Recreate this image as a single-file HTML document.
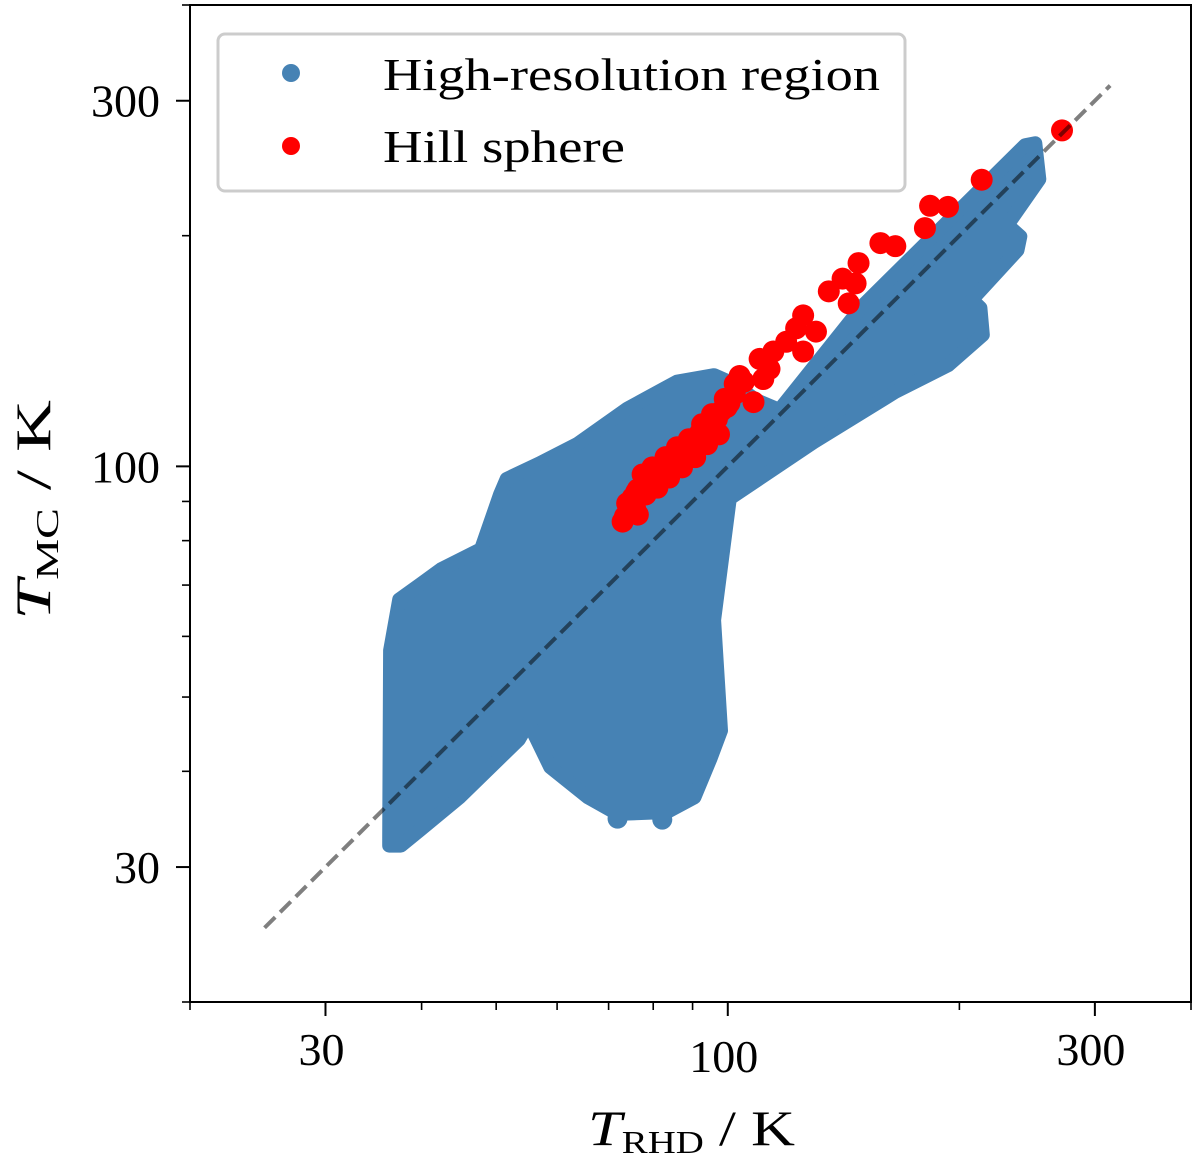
<!DOCTYPE html>
<html><head><meta charset="utf-8"><style>
html,body{margin:0;padding:0;background:#fff;}
svg{display:block;}
text{font-family:"Liberation Serif",serif;fill:#000;}
</style></head><body>
<svg id="chart" width="1200" height="1161" viewBox="0 0 1200 1161" xmlns="http://www.w3.org/2000/svg">
<rect x="0" y="0" width="1200" height="1161" fill="#fff"/>
<g id="plot"></g>
<g id="axes"></g>
</svg>
<script>
// ---- data ----
const xDomain = [20, 400];
const yDomain = [20, 400];
const majorTicks = [30, 100, 300];
const majorTickLabels = ["30", "100", "300"];
const minorTicks = [20, 40, 50, 60, 70, 80, 90, 200, 400];
const diagRange = [25, 314];
// High-resolution region outline (T_RHD, T_MC)
const blueRhd = [36.3,36.4,37.4,39.9,42.4,47.8,50.6,51.6,56.8,63.8,74.1,85.9,96.0,101.5,108.9,116.7,149.7,243.5,251.0,254.0,230.9,240.0,238.0,207.6,213.0,214.5,193.3,165.3,129.2,100.6,96.0,98.0,95.0,90.5,83.4,71.9,65.8,58.8,55.1,53.5,44.8,39.9,37.6,36.3];
const blueMc  = [32.9,57.5,67.0,70.2,73.4,78.0,92.0,96.3,100.8,107.0,119.0,129.0,131.5,128.3,122.0,118.5,162.0,262.5,264.0,237.0,206.5,199.5,191.5,165.0,161.0,148.5,135.5,125.2,107.5,90.8,63.0,45.2,41.6,37.0,35.4,35.2,37.0,40.5,46.3,44.0,37.0,33.6,32.0,32.0];
const blueExtraRhd = [71.9, 82.2];
const blueExtraMc = [34.7, 34.6];
// Hill sphere points
const redRhd = [271.9,213.8,183.2,193.3,180.4,157.9,165.1,147.9,141.0,146.6,135.3,143.6,125.3,122.7,130.2,119.1,125.3,114.6,110.0,113.3,111.2,103.6,108.0,104.9,
 74.5,75.2,76.4,78.7,81.0,83.4,85.9,88.5,91.2,94.0,96.8,99.7,102.1,103.3,75.2,78.2,81.0,83.9,87.2,90.7,94.0,97.4,77.5,79.8,83.0,85.9,89.0,92.6,95.4,99.1,102.1,73.0,76.4,
 74.0,76.0,77.8,80.0,82.2,84.6,87.0,89.5,92.0,95.0,98.0,100.5,73.5,75.8,80.4,85.0,90.0,96.0];
const redMc = [274.4,236.6,218.8,218.1,204.6,195.6,193.8,184.2,175.8,173.3,169.2,163.2,157.4,151.4,149.9,145.4,141.2,141.2,138.1,134.0,130.0,131.2,121.3,128.9,
 87.3,91.0,93.3,95.6,97.9,100.6,103.7,105.9,109.1,111.8,115.3,119.5,124.3,129.3,89.1,91.9,93.8,96.7,99.7,102.8,106.9,110.1,97.6,99.7,102.8,105.9,108.5,113.5,117.0,122.5,128.1,84.7,86.5,
 89.5,92.5,94.5,97.0,99.2,102.0,104.8,107.2,110.5,113.5,118.0,121.0,86.0,88.0,95.5,101.0,105.0,112.5];

// ---- scales ----
const L=190, R=1191, T=5, B=1002;
const lg=Math.log10;
function sx(v){return L+(lg(v)-lg(xDomain[0]))/(lg(xDomain[1])-lg(xDomain[0]))*(R-L);}
function sy(v){return B-(lg(v)-lg(yDomain[0]))/(lg(yDomain[1])-lg(yDomain[0]))*(B-T);}
const NS="http://www.w3.org/2000/svg";
function mk(tag,attrs,parent){const e=document.createElementNS(NS,tag);for(const k in attrs)e.setAttribute(k,attrs[k]);parent.appendChild(e);return e;}
const plot=document.getElementById('plot');
const axes=document.getElementById('axes');

// blue region
let pts=blueRhd.map((v,i)=>sx(v).toFixed(1)+","+sy(blueMc[i]).toFixed(1)).join(" ");
const poly=mk('polygon',{points:pts,fill:'#4682b4',stroke:'#4682b4','stroke-width':14,'stroke-linejoin':'round'},plot);


blueExtraRhd.forEach((v,i)=>{
  const c=mk('circle',{cx:sx(v),cy:sy(blueExtraMc[i]),r:10,fill:'#4682b4'},plot);
  
  
});
// red points
redRhd.forEach((v,i)=>{
  const c=mk('circle',{cx:sx(v),cy:sy(redMc[i]),r:11,fill:'#ff0000'},plot);
  
  
});
// diagonal
const dl=mk('line',{x1:sx(diagRange[0]),y1:sy(diagRange[0]),x2:sx(diagRange[1]),y2:sy(diagRange[1]),stroke:'#000','stroke-opacity':0.5,'stroke-width':4,'stroke-dasharray':'15 7'},plot);



// frame
const fr=mk('rect',{x:L,y:T,width:R-L,height:B-T,fill:'none',stroke:'#000','stroke-width':2},axes);


// ticks
majorTicks.forEach((v,i)=>{
  const x=sx(v), y=sy(v);
  const t1=mk('line',{x1:x,y1:B,x2:x,y2:B+14,stroke:'#000','stroke-width':2},axes);
  
  
  const t2=mk('line',{x1:L,y1:y,x2:L-14,y2:y,stroke:'#000','stroke-width':2},axes);
  
  
  const lx=mk('text',{x:x-4,y:B+(v===100?70:63),'font-size':46,'text-anchor':'middle'},axes);
  lx.textContent=majorTickLabels[i];
  
  
  const ly=mk('text',{x:L-30,y:y+16,'font-size':46,'text-anchor':'end'},axes);
  ly.textContent=majorTickLabels[i];
  
  
});
minorTicks.forEach(v=>{
  const x=sx(v), y=sy(v);
  const t1=mk('line',{x1:x,y1:B,x2:x,y2:B+8,stroke:'#000','stroke-width':1.6},axes);
  
  
  const t2=mk('line',{x1:L,y1:y,x2:L-8,y2:y,stroke:'#000','stroke-width':1.6},axes);
  
  
});
</script>
<svg style="position:absolute;left:0;top:0" width="1200" height="1161" xmlns="http://www.w3.org/2000/svg">
<text x="588" y="1145" font-size="50" textLength="207" lengthAdjust="spacingAndGlyphs"><tspan font-style="italic">T</tspan><tspan font-size="32" dy="8">RHD</tspan><tspan dy="-8"> / K</tspan></text>
<text transform="translate(50,620) rotate(-90)" font-size="50" textLength="220" lengthAdjust="spacingAndGlyphs"><tspan font-style="italic">T</tspan><tspan font-size="32" dy="8">MC</tspan><tspan dy="-8"> / K</tspan></text>
<g>
<rect x="218" y="34" width="687" height="157" rx="7" fill="#fff" fill-opacity="0.8" stroke="#cccccc" stroke-width="3"/>
<circle cx="291" cy="73" r="9" fill="#4682b4"/>
<text x="383" y="90" font-size="46" textLength="497" lengthAdjust="spacingAndGlyphs">High-resolution region</text>
<circle cx="291" cy="146" r="9" fill="#ff0000"/>
<text x="383" y="162" font-size="46" textLength="242" lengthAdjust="spacingAndGlyphs">Hill sphere</text>
</g>
</svg>
</body></html>
